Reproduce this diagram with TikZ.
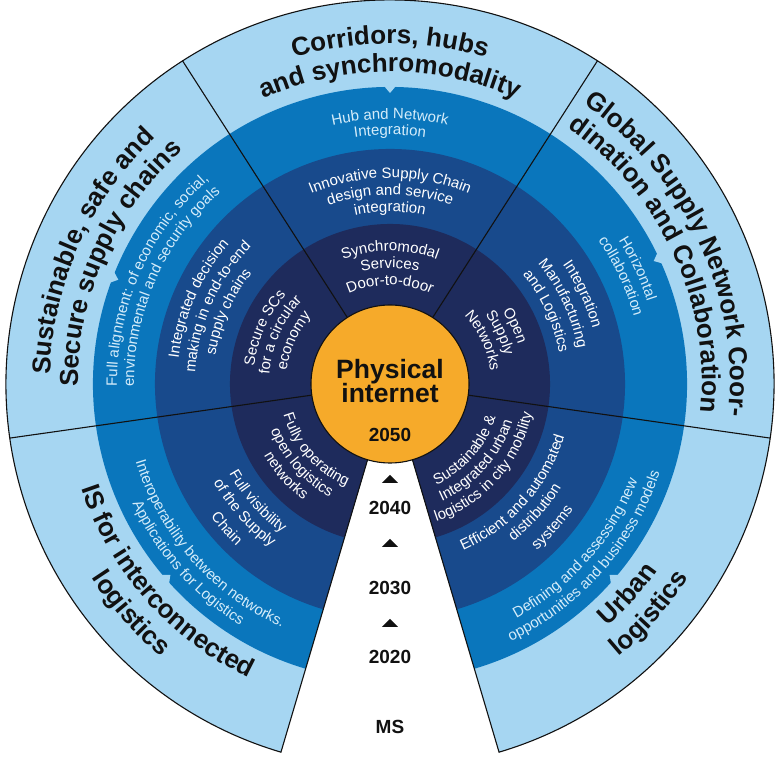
\documentclass[tikz,border=0pt]{standalone}
\usepackage{fontspec}
\setmainfont{Liberation Sans}
\usetikzlibrary{decorations.text}
\definecolor{bleuclair}{HTML}{A6D6F2}
\definecolor{bleumoyen}{HTML}{0A76BC}
\definecolor{bleufonce}{HTML}{184A8C}
\definecolor{bleunuit}{HTML}{1E2B5C}
\definecolor{soleil}{HTML}{F6AA2A}
\definecolor{bleupale}{HTML}{D4ECFA}
\definecolor{encre}{HTML}{111111}
\newcommand{\policeT}{\bfseries\fontsize{26}{28}\selectfont}
\newcommand{\policeS}{\fontsize{15}{17}\selectfont}
\newcommand{\policeA}{\bfseries\fontsize{19}{21}\selectfont}
\newcommand{\policeP}{\bfseries\fontsize{26.5}{24}\selectfont}
% texte sur un arc : style, angle, rayon, texte
\newcommand{\txtcw}[4]{\path[decorate,decoration={text along path,text align=center,text={#4}},#1] (#2+60:#3) arc[start angle=#2+60,end angle=#2-60,radius=#3];}
\newcommand{\txtccw}[4]{\path[decorate,decoration={text along path,text align=center,text={#4}},#1] (#2-60:#3) arc[start angle=#2-60,end angle=#2+60,radius=#3];}

\begin{document}
\begin{tikzpicture}[x=1pt,y=1pt,
		trait/.style={line width=1.1pt,draw=encre},
		titre/.style={decoration={text color=encre}},
		pale/.style={decoration={text color=bleupale}},
		blanc/.style={decoration={text color=white}},
		annee/.style={font=\policeA,text=encre,anchor=base}]
						\useasboundingbox (-390,-375) rectangle (389,384);
						\fill[white] (-390,-375) rectangle (389,384);
						% Anneaux
						\foreach \r/\c in {384/bleuclair,297/bleumoyen,235/bleufonce,160/bleunuit}
							\fill[\c] (0,0) -- (286.5:\r) arc[start angle=286.5,end angle=613.5,radius=\r] -- cycle;
						\foreach \a in {25,90,159,221,319}
							\fill[bleuclair] (\a-1.3:299) -- (\a+1.3:299) -- (\a:291) -- cycle;
						% Secteurs
						\foreach \a in {351.9,57.3,122.7,188.1}
							\draw[trait] (\a:79) -- (\a:384);
						\draw[trait] (253.5:79) -- (253.5:384) arc[start angle=253.5,end angle=-73.5,radius=384] -- (286.5:79);
						\node[circle,fill=soleil,draw=encre,line width=1.1pt,minimum size=158pt,inner sep=0pt] (coeur) at (0,0) {};
						\node[font=\policeP,text=encre,anchor=base] (phys) at (0,5) {Physical};
						\node[font=\policeP,text=encre,anchor=base] (inet) at (0,-19) {internet};
						% Jalons
						\node[annee] (a2050) at (0,-58) {2050};
						\node[annee] (a2040) at (0,-131) {2040};
						\node[annee] (a2030) at (0,-211) {2030};
						\node[annee] (a2020) at (0,-280) {2020};
						\node[annee] (ms) at (0,-349) {MS};
						\foreach \y in {-99,-163,-243}
							\fill[encre] (-8,\y) -- (8,\y) -- (0,\y+8) -- cycle;
						% Corridors
						\txtcw{titre}{90}{340}{|\policeT|Corridors, hubs}
						\txtcw{titre}{90}{312}{|\policeT|and synchromodality}
						\txtcw{pale}{90}{265}{|\policeS|Hub and Network}
						\txtcw{pale}{90}{249}{|\policeS|Integration}
						\txtcw{blanc}{90}{206}{|\policeS|Innovative Supply Chain}
						\txtcw{blanc}{90}{189}{|\policeS|design and service}
						\txtcw{blanc}{90}{172}{|\policeS|integration}
						\txtcw{blanc}{90}{133}{|\policeS|Synchromodal}
						\txtcw{blanc}{90}{116}{|\policeS|Services}
						\txtcw{blanc}{90}{99}{|\policeS|Door-to-door}
						% Sustainable
						\txtcw{titre}{156}{340}{|\policeT|Sustainable, safe and}
						\txtcw{titre}{156}{312}{|\policeT|Secure supply chains}
						\txtcw{pale}{156}{273}{|\policeS|Full alignment: of economic, social,}
						\txtcw{pale}{156}{256}{|\policeS|environmental and security goals}
						\txtcw{blanc}{156}{213}{|\policeS|Integrated decision}
						\txtcw{blanc}{156}{195}{|\policeS|making in end-to-end}
						\txtcw{blanc}{156}{177}{|\policeS|supply chains}
						\txtcw{blanc}{156}{137}{|\policeS|Secure SCs}
						\txtcw{blanc}{156}{121}{|\policeS|for a circular}
						\txtcw{blanc}{156}{104}{|\policeS|economy}
						% Global
						\txtcw{titre}{25}{340}{|\policeT|Global Supply Network Coor-}
						\txtcw{titre}{25}{312}{|\policeT|dination and Collaboration}
						\txtcw{pale}{25}{270}{|\policeS|Horizontal}
						\txtcw{pale}{25}{253}{|\policeS|collaboration}
						\txtcw{blanc}{25}{210}{|\policeS|Integration}
						\txtcw{blanc}{25}{191}{|\policeS|Manufacturing}
						\txtcw{blanc}{25}{172}{|\policeS|and Logistics}
						\txtcw{blanc}{25}{134}{|\policeS|Open}
						\txtcw{blanc}{25}{118}{|\policeS|Supply}
						\txtcw{blanc}{25}{101}{|\policeS|Networks}
						% IS
						\txtccw{titre}{221.5}{326}{|\policeT|IS for interconnected}
						\txtccw{titre}{221.5}{356}{|\policeT|logistics}
						\txtccw{pale}{221.5}{266}{|\policeS|Interoperability between networks.}
						\txtccw{pale}{221.5}{284}{|\policeS|Applications for Logistics}
						\txtccw{blanc}{221.5}{184}{|\policeS|Full visibility}
						\txtccw{blanc}{221.5}{202}{|\policeS|of the Supply}
						\txtccw{blanc}{221.5}{223}{|\policeS|Chain}
						\txtccw{blanc}{221.5}{111}{|\policeS|Fully operating}
						\txtccw{blanc}{221.5}{128}{|\policeS|open logistics}
						\txtccw{blanc}{221.5}{145}{|\policeS|networks}
						% Urban
						\txtccw{titre}{318.5}{326}{|\policeT|Urban}
						\txtccw{titre}{318.5}{356}{|\policeT|logistics}
						\txtccw{pale}{318.5}{266}{|\policeS|Defining and assessing new}
						\txtccw{pale}{318.5}{284}{|\policeS|opportunities and business models}
						\txtccw{blanc}{318.5}{182}{|\policeS|Efficient and automated}
						\txtccw{blanc}{318.5}{200}{|\policeS|distribution}
						\txtccw{blanc}{318.5}{222}{|\policeS|systems}
						\txtccw{blanc}{318.5}{111}{|\policeS|Sustainable {\&}}
						\txtccw{blanc}{318.5}{128}{|\policeS|Integrated urban}
						\txtccw{blanc}{318.5}{145}{|\policeS|logistics in city mobility}
						\end{tikzpicture}
\end{document}
